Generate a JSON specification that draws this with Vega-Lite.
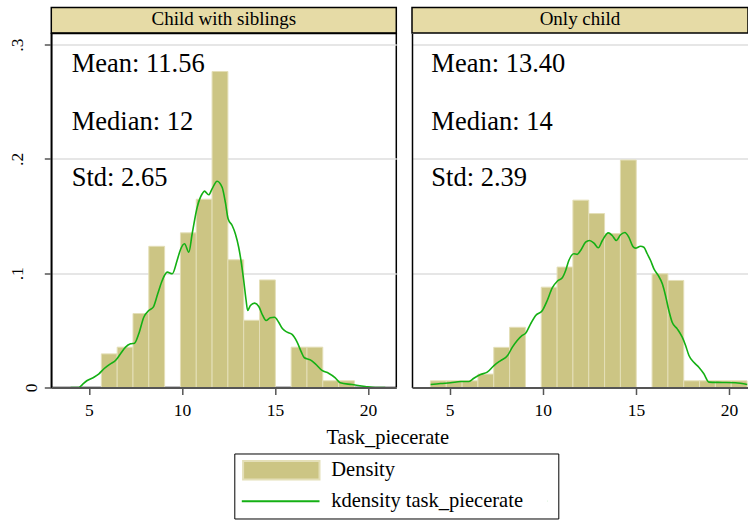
{
  "$schema": "https://vega.github.io/schema/vega-lite/v6.json",
  "padding": {"left": 7.3, "top": 6.5, "right": 0, "bottom": 0},
  "background": "white",
  "columns": 2,
  "spacing": {"row": 0, "column": 15.7},
  "bounds": "flush",
  "align": "each",
  "config": {
    "font": "Liberation Serif",
    "view": {"stroke": null},
    "axis": {"labelFont": "Liberation Serif", "titleFont": "Liberation Serif", "labelColor": "black", "titleColor": "black"},
    "legend": {
      "orient": "none",
      "legendX": 183,
      "legendY": 446,
      "direction": "vertical",
      "strokeColor": "black",
      "strokeWidth": 1,
      "fillColor": "white",
      "padding": 6.5,
      "labelFont": "Liberation Serif",
      "labelFontSize": 20.5,
      "labelColor": "black",
      "labelOffset": 70,
      "labelLimit": 400,
      "symbolSize": 324,
      "symbolStrokeWidth": 2,
      "symbolOpacity": 1,
      "symbolFillColor": "transparent",
      "symbolStrokeColor": "transparent",
      "rowPadding": 7
    }
  },
  "datasets": {
    "hist": [
      {"group": "Child with siblings", "series": "Density", "bin_start": 5.67, "bin_end": 6.52, "density": 0.02941},
      {"group": "Child with siblings", "series": "Density", "bin_start": 6.52, "bin_end": 7.37, "density": 0.03529},
      {"group": "Child with siblings", "series": "Density", "bin_start": 7.37, "bin_end": 8.22, "density": 0.06471},
      {"group": "Child with siblings", "series": "Density", "bin_start": 8.22, "bin_end": 9.07, "density": 0.12353},
      {"group": "Child with siblings", "series": "Density", "bin_start": 9.92, "bin_end": 10.77, "density": 0.13529},
      {"group": "Child with siblings", "series": "Density", "bin_start": 10.77, "bin_end": 11.62, "density": 0.16471},
      {"group": "Child with siblings", "series": "Density", "bin_start": 11.62, "bin_end": 12.47, "density": 0.27647},
      {"group": "Child with siblings", "series": "Density", "bin_start": 12.47, "bin_end": 13.32, "density": 0.11176},
      {"group": "Child with siblings", "series": "Density", "bin_start": 13.32, "bin_end": 14.17, "density": 0.05882},
      {"group": "Child with siblings", "series": "Density", "bin_start": 14.17, "bin_end": 15.02, "density": 0.09412},
      {"group": "Child with siblings", "series": "Density", "bin_start": 15.87, "bin_end": 16.72, "density": 0.03529},
      {"group": "Child with siblings", "series": "Density", "bin_start": 16.72, "bin_end": 17.57, "density": 0.03529},
      {"group": "Child with siblings", "series": "Density", "bin_start": 17.57, "bin_end": 18.42, "density": 0.00588},
      {"group": "Child with siblings", "series": "Density", "bin_start": 18.42, "bin_end": 19.27, "density": 0.00588},
      {"group": "Only child", "series": "Density", "bin_start": 3.97, "bin_end": 4.82, "density": 0.00585},
      {"group": "Only child", "series": "Density", "bin_start": 4.82, "bin_end": 5.67, "density": 0.00585},
      {"group": "Only child", "series": "Density", "bin_start": 5.67, "bin_end": 6.52, "density": 0.00585},
      {"group": "Only child", "series": "Density", "bin_start": 6.52, "bin_end": 7.37, "density": 0.01171},
      {"group": "Only child", "series": "Density", "bin_start": 7.37, "bin_end": 8.22, "density": 0.03512},
      {"group": "Only child", "series": "Density", "bin_start": 8.22, "bin_end": 9.07, "density": 0.05268},
      {"group": "Only child", "series": "Density", "bin_start": 9.92, "bin_end": 10.77, "density": 0.0878},
      {"group": "Only child", "series": "Density", "bin_start": 10.77, "bin_end": 11.62, "density": 0.10536},
      {"group": "Only child", "series": "Density", "bin_start": 11.62, "bin_end": 12.47, "density": 0.16389},
      {"group": "Only child", "series": "Density", "bin_start": 12.47, "bin_end": 13.32, "density": 0.15218},
      {"group": "Only child", "series": "Density", "bin_start": 13.32, "bin_end": 14.17, "density": 0.13462},
      {"group": "Only child", "series": "Density", "bin_start": 14.17, "bin_end": 15.02, "density": 0.199},
      {"group": "Only child", "series": "Density", "bin_start": 15.87, "bin_end": 16.72, "density": 0.0995},
      {"group": "Only child", "series": "Density", "bin_start": 16.72, "bin_end": 17.57, "density": 0.09365},
      {"group": "Only child", "series": "Density", "bin_start": 17.57, "bin_end": 18.42, "density": 0.00585},
      {"group": "Only child", "series": "Density", "bin_start": 18.42, "bin_end": 19.27, "density": 0.00585},
      {"group": "Only child", "series": "Density", "bin_start": 19.27, "bin_end": 20.12, "density": 0.00585},
      {"group": "Only child", "series": "Density", "bin_start": 20.12, "bin_end": 20.97, "density": 0.00585}
    ],
    "kde": [
      {"group": "Child with siblings", "series": "kdensity task_piecerate", "value": 4.02, "density": 0},
      {"group": "Child with siblings", "series": "kdensity task_piecerate", "value": 4.46, "density": 0},
      {"group": "Child with siblings", "series": "kdensity task_piecerate", "value": 4.65, "density": 0.0026},
      {"group": "Child with siblings", "series": "kdensity task_piecerate", "value": 4.91, "density": 0.0061},
      {"group": "Child with siblings", "series": "kdensity task_piecerate", "value": 5.27, "density": 0.009},
      {"group": "Child with siblings", "series": "kdensity task_piecerate", "value": 5.54, "density": 0.012},
      {"group": "Child with siblings", "series": "kdensity task_piecerate", "value": 5.81, "density": 0.0164},
      {"group": "Child with siblings", "series": "kdensity task_piecerate", "value": 6.16, "density": 0.0207},
      {"group": "Child with siblings", "series": "kdensity task_piecerate", "value": 6.43, "density": 0.0236},
      {"group": "Child with siblings", "series": "kdensity task_piecerate", "value": 6.7, "density": 0.0295},
      {"group": "Child with siblings", "series": "kdensity task_piecerate", "value": 6.97, "density": 0.0353},
      {"group": "Child with siblings", "series": "kdensity task_piecerate", "value": 7.24, "density": 0.0382},
      {"group": "Child with siblings", "series": "kdensity task_piecerate", "value": 7.45, "density": 0.0388},
      {"group": "Child with siblings", "series": "kdensity task_piecerate", "value": 7.68, "density": 0.047},
      {"group": "Child with siblings", "series": "kdensity task_piecerate", "value": 7.95, "density": 0.0615},
      {"group": "Child with siblings", "series": "kdensity task_piecerate", "value": 8.22, "density": 0.0674},
      {"group": "Child with siblings", "series": "kdensity task_piecerate", "value": 8.46, "density": 0.0703},
      {"group": "Child with siblings", "series": "kdensity task_piecerate", "value": 8.7, "density": 0.082},
      {"group": "Child with siblings", "series": "kdensity task_piecerate", "value": 8.94, "density": 0.0936},
      {"group": "Child with siblings", "series": "kdensity task_piecerate", "value": 9.21, "density": 0.1009},
      {"group": "Child with siblings", "series": "kdensity task_piecerate", "value": 9.48, "density": 0.0995},
      {"group": "Child with siblings", "series": "kdensity task_piecerate", "value": 9.74, "density": 0.1111},
      {"group": "Child with siblings", "series": "kdensity task_piecerate", "value": 9.92, "density": 0.1205},
      {"group": "Child with siblings", "series": "kdensity task_piecerate", "value": 10.14, "density": 0.1257},
      {"group": "Child with siblings", "series": "kdensity task_piecerate", "value": 10.37, "density": 0.1184},
      {"group": "Child with siblings", "series": "kdensity task_piecerate", "value": 10.55, "density": 0.1345},
      {"group": "Child with siblings", "series": "kdensity task_piecerate", "value": 10.82, "density": 0.1577},
      {"group": "Child with siblings", "series": "kdensity task_piecerate", "value": 11.09, "density": 0.1695},
      {"group": "Child with siblings", "series": "kdensity task_piecerate", "value": 11.21, "density": 0.1718},
      {"group": "Child with siblings", "series": "kdensity task_piecerate", "value": 11.44, "density": 0.1686},
      {"group": "Child with siblings", "series": "kdensity task_piecerate", "value": 11.62, "density": 0.1738},
      {"group": "Child with siblings", "series": "kdensity task_piecerate", "value": 11.89, "density": 0.1805},
      {"group": "Child with siblings", "series": "kdensity task_piecerate", "value": 12.16, "density": 0.1752},
      {"group": "Child with siblings", "series": "kdensity task_piecerate", "value": 12.34, "density": 0.1615},
      {"group": "Child with siblings", "series": "kdensity task_piecerate", "value": 12.48, "density": 0.1476},
      {"group": "Child with siblings", "series": "kdensity task_piecerate", "value": 12.7, "density": 0.1417},
      {"group": "Child with siblings", "series": "kdensity task_piecerate", "value": 12.87, "density": 0.1345},
      {"group": "Child with siblings", "series": "kdensity task_piecerate", "value": 13.05, "density": 0.1227},
      {"group": "Child with siblings", "series": "kdensity task_piecerate", "value": 13.2, "density": 0.1082},
      {"group": "Child with siblings", "series": "kdensity task_piecerate", "value": 13.32, "density": 0.0936},
      {"group": "Child with siblings", "series": "kdensity task_piecerate", "value": 13.45, "density": 0.0761},
      {"group": "Child with siblings", "series": "kdensity task_piecerate", "value": 13.53, "density": 0.0674},
      {"group": "Child with siblings", "series": "kdensity task_piecerate", "value": 13.68, "density": 0.0717},
      {"group": "Child with siblings", "series": "kdensity task_piecerate", "value": 13.91, "density": 0.0738},
      {"group": "Child with siblings", "series": "kdensity task_piecerate", "value": 14.13, "density": 0.0709},
      {"group": "Child with siblings", "series": "kdensity task_piecerate", "value": 14.34, "density": 0.063},
      {"group": "Child with siblings", "series": "kdensity task_piecerate", "value": 14.52, "density": 0.0586},
      {"group": "Child with siblings", "series": "kdensity task_piecerate", "value": 14.75, "density": 0.061},
      {"group": "Child with siblings", "series": "kdensity task_piecerate", "value": 14.98, "density": 0.0615},
      {"group": "Child with siblings", "series": "kdensity task_piecerate", "value": 15.2, "density": 0.0571},
      {"group": "Child with siblings", "series": "kdensity task_piecerate", "value": 15.41, "density": 0.0513},
      {"group": "Child with siblings", "series": "kdensity task_piecerate", "value": 15.65, "density": 0.0484},
      {"group": "Child with siblings", "series": "kdensity task_piecerate", "value": 15.92, "density": 0.0464},
      {"group": "Child with siblings", "series": "kdensity task_piecerate", "value": 16.19, "density": 0.0397},
      {"group": "Child with siblings", "series": "kdensity task_piecerate", "value": 16.42, "density": 0.0309},
      {"group": "Child with siblings", "series": "kdensity task_piecerate", "value": 16.58, "density": 0.026},
      {"group": "Child with siblings", "series": "kdensity task_piecerate", "value": 16.9, "density": 0.0242},
      {"group": "Child with siblings", "series": "kdensity task_piecerate", "value": 17.17, "density": 0.0207},
      {"group": "Child with siblings", "series": "kdensity task_piecerate", "value": 17.53, "density": 0.0149},
      {"group": "Child with siblings", "series": "kdensity task_piecerate", "value": 17.88, "density": 0.0125},
      {"group": "Child with siblings", "series": "kdensity task_piecerate", "value": 18.24, "density": 0.0085},
      {"group": "Child with siblings", "series": "kdensity task_piecerate", "value": 18.51, "density": 0.0041},
      {"group": "Child with siblings", "series": "kdensity task_piecerate", "value": 19.14, "density": 0.0026},
      {"group": "Child with siblings", "series": "kdensity task_piecerate", "value": 19.85, "density": 0.0009},
      {"group": "Child with siblings", "series": "kdensity task_piecerate", "value": 20.39, "density": 0},
      {"group": "Child with siblings", "series": "kdensity task_piecerate", "value": 20.93, "density": 0},
      {"group": "Only child", "series": "kdensity task_piecerate", "value": 3.98, "density": 0.0026},
      {"group": "Only child", "series": "kdensity task_piecerate", "value": 4.52, "density": 0.0035},
      {"group": "Only child", "series": "kdensity task_piecerate", "value": 5.05, "density": 0.0041},
      {"group": "Only child", "series": "kdensity task_piecerate", "value": 5.59, "density": 0.0052},
      {"group": "Only child", "series": "kdensity task_piecerate", "value": 6.04, "density": 0.0052},
      {"group": "Only child", "series": "kdensity task_piecerate", "value": 6.3, "density": 0.0081},
      {"group": "Only child", "series": "kdensity task_piecerate", "value": 6.66, "density": 0.0114},
      {"group": "Only child", "series": "kdensity task_piecerate", "value": 7.02, "density": 0.0134},
      {"group": "Only child", "series": "kdensity task_piecerate", "value": 7.38, "density": 0.0192},
      {"group": "Only child", "series": "kdensity task_piecerate", "value": 7.74, "density": 0.0236},
      {"group": "Only child", "series": "kdensity task_piecerate", "value": 8.1, "density": 0.0277},
      {"group": "Only child", "series": "kdensity task_piecerate", "value": 8.37, "density": 0.0353},
      {"group": "Only child", "series": "kdensity task_piecerate", "value": 8.63, "density": 0.0411},
      {"group": "Only child", "series": "kdensity task_piecerate", "value": 8.9, "density": 0.0455},
      {"group": "Only child", "series": "kdensity task_piecerate", "value": 9.08, "density": 0.0475},
      {"group": "Only child", "series": "kdensity task_piecerate", "value": 9.35, "density": 0.0557},
      {"group": "Only child", "series": "kdensity task_piecerate", "value": 9.62, "density": 0.063},
      {"group": "Only child", "series": "kdensity task_piecerate", "value": 9.98, "density": 0.0674},
      {"group": "Only child", "series": "kdensity task_piecerate", "value": 10.24, "density": 0.0761},
      {"group": "Only child", "series": "kdensity task_piecerate", "value": 10.51, "density": 0.0872},
      {"group": "Only child", "series": "kdensity task_piecerate", "value": 10.78, "density": 0.093},
      {"group": "Only child", "series": "kdensity task_piecerate", "value": 11.05, "density": 0.096},
      {"group": "Only child", "series": "kdensity task_piecerate", "value": 11.23, "density": 0.1024},
      {"group": "Only child", "series": "kdensity task_piecerate", "value": 11.4, "density": 0.1111},
      {"group": "Only child", "series": "kdensity task_piecerate", "value": 11.67, "density": 0.117},
      {"group": "Only child", "series": "kdensity task_piecerate", "value": 11.85, "density": 0.1165},
      {"group": "Only child", "series": "kdensity task_piecerate", "value": 12.03, "density": 0.1199},
      {"group": "Only child", "series": "kdensity task_piecerate", "value": 12.3, "density": 0.1271},
      {"group": "Only child", "series": "kdensity task_piecerate", "value": 12.51, "density": 0.1286},
      {"group": "Only child", "series": "kdensity task_piecerate", "value": 12.75, "density": 0.1263},
      {"group": "Only child", "series": "kdensity task_piecerate", "value": 12.98, "density": 0.1222},
      {"group": "Only child", "series": "kdensity task_piecerate", "value": 13.2, "density": 0.1286},
      {"group": "Only child", "series": "kdensity task_piecerate", "value": 13.52, "density": 0.1353},
      {"group": "Only child", "series": "kdensity task_piecerate", "value": 13.73, "density": 0.133},
      {"group": "Only child", "series": "kdensity task_piecerate", "value": 13.95, "density": 0.1286},
      {"group": "Only child", "series": "kdensity task_piecerate", "value": 14.18, "density": 0.1336},
      {"group": "Only child", "series": "kdensity task_piecerate", "value": 14.41, "density": 0.1356},
      {"group": "Only child", "series": "kdensity task_piecerate", "value": 14.62, "density": 0.1315},
      {"group": "Only child", "series": "kdensity task_piecerate", "value": 14.84, "density": 0.1234},
      {"group": "Only child", "series": "kdensity task_piecerate", "value": 14.98, "density": 0.1219},
      {"group": "Only child", "series": "kdensity task_piecerate", "value": 15.25, "density": 0.1236},
      {"group": "Only child", "series": "kdensity task_piecerate", "value": 15.43, "density": 0.1227},
      {"group": "Only child", "series": "kdensity task_piecerate", "value": 15.61, "density": 0.117},
      {"group": "Only child", "series": "kdensity task_piecerate", "value": 15.79, "density": 0.1111},
      {"group": "Only child", "series": "kdensity task_piecerate", "value": 15.97, "density": 0.1038},
      {"group": "Only child", "series": "kdensity task_piecerate", "value": 16.2, "density": 0.098},
      {"group": "Only child", "series": "kdensity task_piecerate", "value": 16.42, "density": 0.0907},
      {"group": "Only child", "series": "kdensity task_piecerate", "value": 16.59, "density": 0.0805},
      {"group": "Only child", "series": "kdensity task_piecerate", "value": 16.77, "density": 0.0674},
      {"group": "Only child", "series": "kdensity task_piecerate", "value": 16.95, "density": 0.0571},
      {"group": "Only child", "series": "kdensity task_piecerate", "value": 17.22, "density": 0.0513},
      {"group": "Only child", "series": "kdensity task_piecerate", "value": 17.49, "density": 0.044},
      {"group": "Only child", "series": "kdensity task_piecerate", "value": 17.67, "density": 0.0367},
      {"group": "Only child", "series": "kdensity task_piecerate", "value": 17.85, "density": 0.028},
      {"group": "Only child", "series": "kdensity task_piecerate", "value": 18.11, "density": 0.0221},
      {"group": "Only child", "series": "kdensity task_piecerate", "value": 18.38, "density": 0.0178},
      {"group": "Only child", "series": "kdensity task_piecerate", "value": 18.65, "density": 0.012},
      {"group": "Only child", "series": "kdensity task_piecerate", "value": 18.92, "density": 0.0047},
      {"group": "Only child", "series": "kdensity task_piecerate", "value": 19.64, "density": 0.0044},
      {"group": "Only child", "series": "kdensity task_piecerate", "value": 20.35, "density": 0.0041},
      {"group": "Only child", "series": "kdensity task_piecerate", "value": 20.98, "density": 0.0026}
    ],
    "stats": [
      {"group": "Child with siblings", "label": "Mean: 11.56", "value": 4.08, "density": 0.2759},
      {"group": "Child with siblings", "label": "Median: 12", "value": 4.08, "density": 0.2257},
      {"group": "Child with siblings", "label": "Std: 2.65", "value": 4.08, "density": 0.1761},
      {"group": "Only child", "label": "Mean: 13.40", "value": 4.02, "density": 0.2759},
      {"group": "Only child", "label": "Median: 14", "value": 4.02, "density": 0.2257},
      {"group": "Only child", "label": "Std: 2.39", "value": 4.02, "density": 0.1761}
    ]
  },
  "concat": [
    {
      "width": 345,
      "height": 25.5,
      "view": {"fill": "#e6dba6", "stroke": "black", "strokeWidth": 1.5},
      "data": {"values": [{"group": "Child with siblings"}]},
      "mark": {"type": "text", "font": "Liberation Serif", "fontSize": 19, "color": "black", "baseline": "middle", "dy": -1},
      "encoding": {"text": {"field": "group"}}
    },
    {
      "width": 336,
      "height": 25.5,
      "view": {"fill": "#e6dba6", "stroke": "black", "strokeWidth": 1.5},
      "data": {"values": [{"group": "Only child"}]},
      "mark": {"type": "text", "font": "Liberation Serif", "fontSize": 19, "color": "black", "baseline": "middle", "dy": -1},
      "encoding": {"text": {"field": "group"}}
    },
    {
      "width": 345,
      "height": 354,
      "view": {"stroke": "black", "strokeWidth": 1.5},
      "layer": [
        {
          "data": {"name": "hist"},
          "transform": [{"filter": "datum.group === 'Child with siblings'"}],
          "mark": {"type": "rect", "stroke": "#e4dfb8", "strokeWidth": 1},
          "encoding": {
            "x": {
              "field": "bin_start", "type": "quantitative",
              "scale": {"domain": [2.98, 21.52], "nice": false, "zero": false},
              "axis": {
                "values": [5, 10, 15, 20], "grid": false, "zindex": 1,
                "domainColor": "#555555", "domainWidth": 2,
                "tickColor": "#555555", "tickWidth": 1.5, "tickSize": 7,
                "labelFontSize": 17.5, "labelPadding": 7,
                "title": "Task_piecerate", "titleX": 336, "titleY": 56,
                "titleBaseline": "alphabetic", "titleAlign": "center",
                "titleFontSize": 20.5, "titleFontWeight": "normal"
              }
            },
            "x2": {"field": "bin_end"},
            "y": {
              "field": "density", "type": "quantitative",
              "scale": {"domain": [0, 0.3097], "nice": false},
              "axis": {
                "values": [0, 0.1, 0.2, 0.3], "grid": true,
                "gridColor": "#dedede", "gridWidth": 1.5,
                "domainColor": "black", "domainWidth": 1.5,
                "tickColor": "#555555", "tickWidth": 1.5, "tickSize": 7,
                "labelAngle": -90, "labelAlign": "center", "labelBaseline": "bottom",
                "labelFontSize": 17.5,
                "labelExpr": "datum.value === 0 ? '0' : '.' + round(datum.value * 10)",
                "labelPadding": {"condition": {"test": "datum.value === 0", "value": 4}, "value": 18},
                "title": null
              }
            },
            "y2": {"datum": 0},
            "fill": {
              "field": "series", "type": "nominal",
              "scale": {"domain": ["Density", "kdensity task_piecerate"], "range": ["#ccc584", "transparent"]},
              "legend": {"title": null}
            }
          }
        },
        {
          "data": {"name": "kde"},
          "transform": [{"filter": "datum.group === 'Child with siblings'"}],
          "mark": {"type": "line", "strokeWidth": 1.6, "interpolate": "monotone", "clip": true},
          "encoding": {
            "x": {"field": "value", "type": "quantitative"},
            "y": {"field": "density", "type": "quantitative"},
            "stroke": {
              "field": "series", "type": "nominal",
              "scale": {"domain": ["Density", "kdensity task_piecerate"], "range": ["#e4dfb8", "#14b014"]},
              "legend": {"title": null}
            }
          }
        },
        {
          "data": {"name": "stats"},
          "transform": [{"filter": "datum.group === 'Child with siblings'"}],
          "mark": {"type": "text", "font": "Liberation Serif", "fontSize": 26.5, "align": "left", "baseline": "alphabetic", "color": "black"},
          "encoding": {
            "x": {"field": "value", "type": "quantitative"},
            "y": {"field": "density", "type": "quantitative"},
            "text": {"field": "label"}
          }
        },
        {
          "data": {"values": []},
          "mark": {"type": "point"},
          "encoding": {
            "shape": {
              "field": "series", "type": "nominal",
              "scale": {"domain": ["Density", "kdensity task_piecerate"], "range": ["M-0.883,-1.033H7.606V1.033H-0.883Z", "M-1.028,0H7.606M32.9,0H32.91"]},
              "legend": {"title": null}
            },
            "fill": {
              "field": "series", "type": "nominal",
              "scale": {"domain": ["Density", "kdensity task_piecerate"], "range": ["#ccc584", "transparent"]},
              "legend": {"title": null}
            },
            "stroke": {
              "field": "series", "type": "nominal",
              "scale": {"domain": ["Density", "kdensity task_piecerate"], "range": ["#e4dfb8", "#14b014"]},
              "legend": {"title": null}
            }
          }
        }
      ]
    },
    {
      "width": 336,
      "height": 354,
      "view": {"stroke": null},
      "layer": [
        {
          "data": {"name": "hist"},
          "transform": [{"filter": "datum.group === 'Only child'"}],
          "mark": {"type": "rect", "stroke": "#e4dfb8", "strokeWidth": 1},
          "encoding": {
            "x": {
              "field": "bin_start", "type": "quantitative",
              "scale": {"domain": [2.98, 21.02], "nice": false, "zero": false},
              "axis": {
                "values": [5, 10, 15, 20], "grid": false, "zindex": 1,
                "domainColor": "#555555", "domainWidth": 2,
                "tickColor": "#555555", "tickWidth": 1.5, "tickSize": 7,
                "labelFontSize": 17.5, "labelPadding": 7,
                "title": null
              }
            },
            "x2": {"field": "bin_end"},
            "y": {
              "field": "density", "type": "quantitative",
              "scale": {"domain": [0, 0.3097], "nice": false},
              "axis": {
                "values": [0, 0.1, 0.2, 0.3], "grid": true,
                "gridColor": "#dedede", "gridWidth": 1.5,
                "domain": true, "domainColor": "black", "domainWidth": 1.5,
                "ticks": false, "labels": false, "title": null
              }
            },
            "y2": {"datum": 0},
            "fill": {
              "field": "series", "type": "nominal",
              "scale": {"domain": ["Density", "kdensity task_piecerate"], "range": ["#ccc584", "transparent"]},
              "legend": {"title": null}
            }
          }
        },
        {
          "data": {"name": "kde"},
          "transform": [{"filter": "datum.group === 'Only child'"}],
          "mark": {"type": "line", "strokeWidth": 1.6, "interpolate": "monotone", "clip": true},
          "encoding": {
            "x": {"field": "value", "type": "quantitative"},
            "y": {"field": "density", "type": "quantitative"},
            "stroke": {
              "field": "series", "type": "nominal",
              "scale": {"domain": ["Density", "kdensity task_piecerate"], "range": ["#e4dfb8", "#14b014"]},
              "legend": {"title": null}
            }
          }
        },
        {
          "data": {"name": "stats"},
          "transform": [{"filter": "datum.group === 'Only child'"}],
          "mark": {"type": "text", "font": "Liberation Serif", "fontSize": 26.5, "align": "left", "baseline": "alphabetic", "color": "black"},
          "encoding": {
            "x": {"field": "value", "type": "quantitative"},
            "y": {"field": "density", "type": "quantitative"},
            "text": {"field": "label"}
          }
        }
      ]
    }
  ]
}
